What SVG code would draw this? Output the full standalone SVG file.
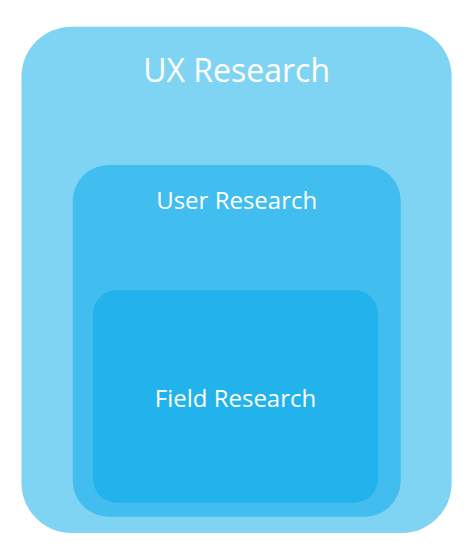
<svg xmlns="http://www.w3.org/2000/svg" width="475" height="557" viewBox="0 0 475 557">
<style>
.t{font-family:"Open Sans","Noto Sans","Liberation Sans",sans-serif;fill:#ffffff;text-anchor:middle}
</style>
<rect width="475" height="557" fill="#ffffff"/>
<g id="ux-research">
<rect x="21.5" y="26.7" width="430.2" height="506.3" rx="50" ry="50" fill="#80d4f3"/>
<text class="t" x="236.6" y="82.3" font-size="32">UX Research</text>
</g>
<g id="user-research">
<rect x="72.7" y="165" width="328" height="351.7" rx="36" ry="36" fill="#41bdef"/>
<text class="t" x="236.7" y="209.3" font-size="24">User Research</text>
</g>
<g id="field-research">
<rect x="93" y="290" width="285" height="212.7" rx="24" ry="24" fill="#22b3ec"/>
<text class="t" x="235.5" y="406.7" font-size="24">Field Research</text>
</g>
<g id="connectors"/>
</svg>
